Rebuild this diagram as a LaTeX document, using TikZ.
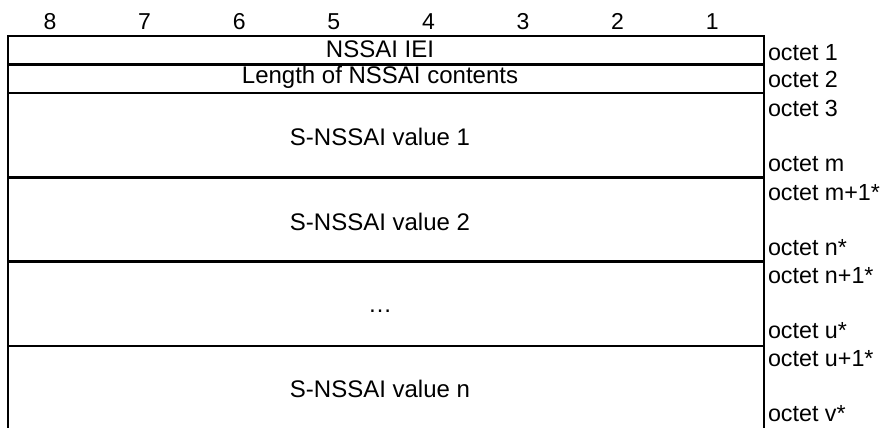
\documentclass[tikz,border=0pt]{standalone}
\usepackage{fontspec}
\setmainfont{Liberation Sans}
\begin{document}
\begin{tikzpicture}[x=1pt,y=-1pt,
  every node/.style={inner sep=0pt,outer sep=0pt,font=\fontsize{23}{27}\selectfont},
  bitnum/.style={anchor=base},
  fieldtxt/.style={anchor=base,font=\fontsize{24}{28}\selectfont},
  octlbl/.style={anchor=base west,font=\fontsize{23.3}{27}\selectfont},
  frame/.style={line width=2.8pt}]
\useasboundingbox (0,0) rectangle (883,428);
% bit numbers
\foreach \b [count=\i from 0] in {8,7,6,5,4,3,2,1}
  \node[bitnum] (bit\b) at ({50+94.6*\i},30) {\b};
% frame
\coordinate (tl) at (8,36);
\coordinate (tr) at (764,36);
\coordinate (bl) at (8,428);
\coordinate (br) at (764,428);
\draw[frame] (bl) -- (tl) -- (tr) -- (br);
\foreach \y [count=\k] in {64.5,93,177.3,261.6,345.9}{
  \coordinate (l\k) at (8,\y);
  \coordinate (r\k) at (764,\y);
  \draw[frame] (l\k) -- (r\k);
}
% field texts
\node[fieldtxt] (iei) at (380,58) {NSSAI IEI};
\node[fieldtxt] (len) at (380,83) {Length of NSSAI contents};
\node[fieldtxt] (v1) at (380,145) {S-NSSAI value 1};
\node[fieldtxt] (v2) at (380,230) {S-NSSAI value 2};
\node[fieldtxt] (dots) at (380,312) {…};
\node[fieldtxt] (vn) at (380,397) {S-NSSAI value n};
% octet labels
\node[octlbl] (o1) at (768,60) {octet 1};
\node[octlbl] (o2) at (768,88) {octet 2};
\node[octlbl] (o3) at (768,116) {octet 3};
\node[octlbl] (om) at (768,171) {octet m};
\node[octlbl] (om1) at (768,200) {octet m+1*};
\node[octlbl] (on) at (768,255) {octet n*};
\node[octlbl] (on1) at (768,283) {octet n+1*};
\node[octlbl] (ou) at (768,338) {octet u*};
\node[octlbl] (ou1) at (768,366) {octet u+1*};
\node[octlbl] (ov) at (768,421) {octet v*};
\end{tikzpicture}
\end{document}
